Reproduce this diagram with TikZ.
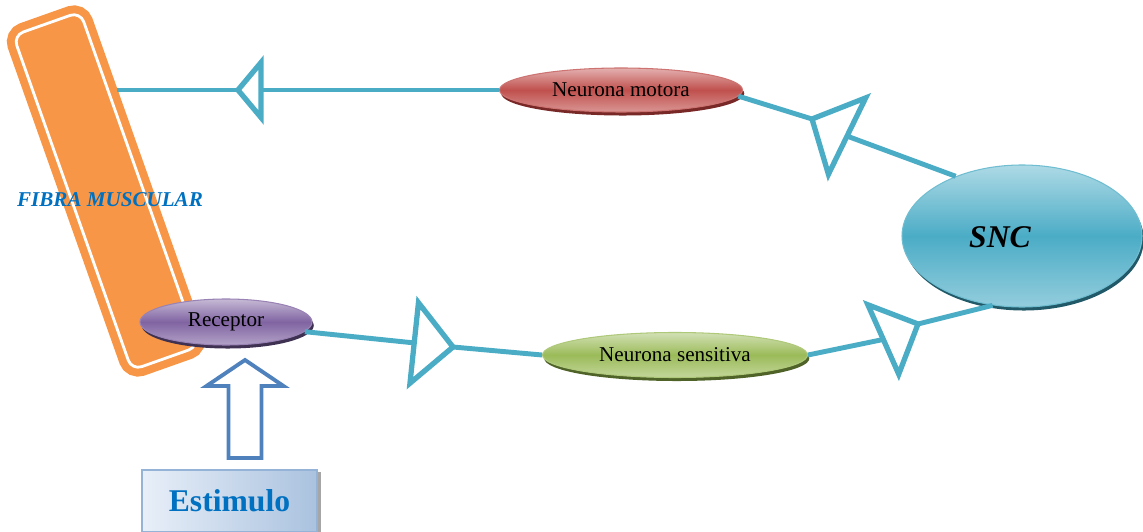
\documentclass[tikz,border=0pt]{standalone}
\usepackage{fontspec}
\setmainfont{Liberation Serif}
\usetikzlibrary{shapes.geometric,shadows,calc}

\definecolor{nervioAzul}{RGB}{75,172,198}
\definecolor{fibraNaranja}{RGB}{247,150,70}
\definecolor{textoAzul}{RGB}{0,112,192}
\definecolor{flechaAzul}{RGB}{79,129,189}
\definecolor{motoraRojo}{RGB}{192,80,77}
\definecolor{motoraSombra}{RGB}{120,40,38}
\definecolor{sensitivaVerde}{RGB}{155,187,89}
\definecolor{sensitivaSombra}{RGB}{79,98,40}
\definecolor{receptorLila}{RGB}{128,100,162}
\definecolor{receptorSombra}{RGB}{63,49,81}
\definecolor{sncSombra}{RGB}{33,89,104}
\definecolor{estimuloClaro}{RGB}{232,239,248}
\definecolor{estimuloBorde}{RGB}{149,179,215}

\tikzset{
  nervio/.style={draw=nervioAzul, line width=2.8pt},
  sinapsis/.style={isosceles triangle, isosceles triangle stretches, draw=nervioAzul,
                   line width=3pt, fill=white, inner sep=0pt, outer sep=0pt, anchor=apex},
  neurona/.style 2 args={ellipse, inner sep=0pt, draw=#1!80!white, line width=0.6pt,
                   top color=#1!45!white, bottom color=#1!60!white, middle color=#1,
                   drop shadow={fill=#2, opacity=1, shadow xshift=1pt, shadow yshift=-2pt},
                   font=\fontsize{12}{14}\selectfont},
  fibra/.style={rectangle, rounded corners=6pt, fill=fibraNaranja, draw=fibraNaranja,
                line width=4.5pt, double=white, double distance=1.6pt}
}

\begin{document}
\begin{tikzpicture}

\useasboundingbox (0,0) rectangle (22.86,10.62);
\clip (0,0) rectangle (22.86,10.62);

% fibra muscular
\node[fibra, rotate=19.5, minimum width=1.42cm, minimum height=7.1cm] (fibra) at (2.12,6.80) {};
\node[font=\bfseries\itshape\fontsize{12}{14}\selectfont, text=textoAzul] (fibraTexto) at (2.2,6.62) {FIBRA MUSCULAR};

% neuronas
\node[neurona={motoraRojo}{motoraSombra}, minimum width=4.86cm, minimum height=0.88cm] (motora) at (12.42,8.82) {Neurona motora};
\node[neurona={sensitivaVerde}{sensitivaSombra}, minimum width=5.3cm, minimum height=0.9cm] (sensitiva) at (13.5,3.52) {Neurona sensitiva};
\node[neurona={receptorLila}{receptorSombra}, minimum width=3.44cm, minimum height=0.92cm] (receptor) at (4.52,4.18) {Receptor};
\node[neurona={nervioAzul}{sncSombra}, minimum width=4.8cm, minimum height=2.84cm] (snc) at (20.44,5.90) {};
\node[font=\bfseries\itshape\fontsize{18}{20}\selectfont] (sncTexto) at (20.0,5.88) {SNC};

% sinapsis
\node[sinapsis, rotate=180, minimum height=0.46cm, minimum width=1.1cm] (s1) at (4.76,8.82) {};
\node[sinapsis, rotate=154, minimum height=0.78cm, minimum width=1.7cm] (s2) at (16.24,8.24) {};
\node[sinapsis, rotate=-6, minimum height=0.78cm, minimum width=1.62cm] (s3) at (9.06,3.68) {};
\node[sinapsis, rotate=24, minimum height=0.76cm, minimum width=1.52cm] (s4) at (18.36,4.14) {};

\coordinate (fibraSalida) at (2.34,8.82);

\draw[nervio] (fibraSalida) -- (s1.apex);
\draw[nervio] (s1.lower side) -- (motora.west);
\draw[nervio] (motora.-3) -- (s2.apex);
\draw[nervio] (s2.lower side) -- (snc.138);
\draw[nervio] (receptor.-7) -- (s3.lower side);
\draw[nervio] (s3.apex) -- (sensitiva.west);
\draw[nervio] (sensitiva.east) -- (s4.lower side);
\draw[nervio] (s4.apex) -- (snc.247);

% estimulo
\node[rectangle, draw=estimuloBorde, line width=1.2pt, left color=estimuloClaro, right color=estimuloBorde!80!white,
      drop shadow={fill=black!35, opacity=1, shadow xshift=2pt, shadow yshift=-1pt},
      minimum width=3.5cm, minimum height=1.24cm, text=textoAzul,
      font=\bfseries\fontsize{18}{20}\selectfont] (estimulo) at (4.59,0.6) {Estimulo};

\coordinate (punta) at (4.90,3.42);
\draw[draw=flechaAzul, line width=2.2pt, fill=white, line join=miter]
  (punta) -- ++(-0.77,-0.52) -- ++(0.44,0) -- ++(0,-1.44) -- ++(0.66,0)
  -- ++(0,1.44) -- ++(0.44,0) -- cycle;

\end{tikzpicture}
\end{document}
